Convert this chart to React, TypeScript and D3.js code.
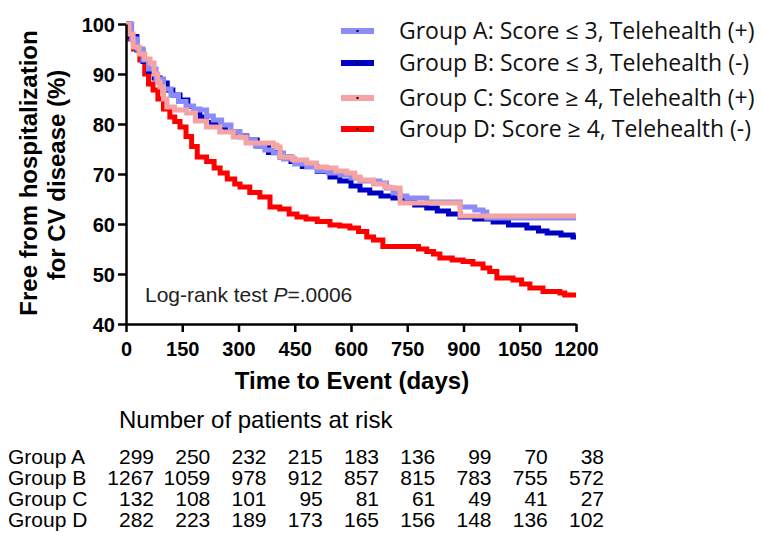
import { useRef, useEffect } from "react";
import * as d3 from "d3";

// Kaplan-Meier points [day, % free from hospitalization]
const groupA: [number, number][] = [
  [0, 100], [15, 97], [30, 95], [45, 92.8], [60, 91], [80, 89], [100, 87], [120, 85.8],
  [140, 84.5], [160, 83.6], [180, 83], [197, 82.8], [215, 81.6], [233, 80.8], [255, 79.8],
  [280, 78.5], [304, 77.4], [322, 76.8], [345, 75.6], [370, 74.8], [393, 74.2], [420, 73],
  [450, 72], [482, 71.4], [510, 70.6], [540, 70.2], [571, 69.8], [600, 69.2], [624, 68.6],
  [677, 68.2], [695, 67.2], [712, 66.2], [730, 65.6], [749, 65.2], [802, 64.4], [882, 64.4],
  [891, 63.4], [930, 62.8], [952, 62.4], [962, 61.2], [1200, 61.2],
];
const groupB: [number, number][] = [
  [0, 100], [10, 97.5], [29, 94.8], [45, 92.5], [60, 90.5], [75, 89.2], [91, 88.2], [110, 86.8],
  [125, 85.8], [144, 84.8], [165, 83.5], [180, 82.5], [197, 81.4], [215, 80.3], [240, 79.5],
  [265, 78.5], [290, 77.6], [322, 76.8], [350, 75.6], [380, 74.3], [411, 73.4], [440, 72.5],
  [470, 71.5], [510, 70.5], [544, 69.4], [570, 68.6], [600, 67.6], [624, 66.8], [650, 66.2],
  [680, 65.6], [712, 65.2], [740, 64.6], [770, 63.8], [802, 63.2], [830, 62.6], [860, 62],
  [891, 61.4], [930, 61], [979, 60.4], [1020, 59.8], [1069, 59.2], [1100, 58.6], [1123, 58.2],
  [1160, 57.8], [1192, 57.4], [1200, 57.4],
];
const groupC: [number, number][] = [
  [0, 100], [8, 98], [19, 95.4], [35, 94], [50, 93], [64, 92.2], [75, 90], [85, 88.4], [91, 87.4],
  [100, 85], [109, 83.4], [130, 82.8], [162, 82.2], [185, 80.6], [215, 79.4], [250, 78.4],
  [286, 77.4], [320, 76.2], [375, 76.2], [393, 75.8], [402, 75.4], [411, 73.4], [445, 72.8],
  [482, 72.2], [508, 71.4], [535, 71.2], [560, 70.6], [589, 70.2], [610, 69.4], [624, 68.8],
  [660, 68], [690, 67.4], [704, 67.2], [731, 64.2], [882, 64.2], [891, 61.6], [1200, 61.6],
];
const groupD: [number, number][] = [
  [0, 100], [10, 97], [20, 95], [37, 92.8], [50, 90], [60, 88], [72, 86.8], [85, 85], [100, 83],
  [117, 81.4], [130, 80.5], [144, 79.4], [160, 77.5], [175, 75.5], [190, 73.4], [215, 72.5],
  [235, 71.2], [251, 70.2], [270, 69], [290, 68], [304, 67.4], [330, 66.3], [357, 65.4],
  [384, 63.4], [410, 63], [435, 62], [456, 61.4], [480, 61], [510, 60.5], [544, 59.8],
  [570, 59.6], [597, 59.2], [620, 58.5], [642, 57.4], [660, 56.8], [685, 55.5], [757, 55.5],
  [780, 55], [802, 54.5], [820, 54], [837, 53.2], [870, 52.8], [899, 52.5], [925, 52],
  [952, 51.2], [970, 50.5], [989, 49.2], [1032, 48.8], [1055, 48], [1077, 47.2], [1112, 46.5],
  [1157, 46.2], [1170, 45.8], [1200, 45.8],
];

const legendLabels = [
  "Group A: Score \u2264 3, Telehealth (+)",
  "Group B: Score \u2264 3, Telehealth (-)",
  "Group C: Score \u2265 4, Telehealth (+)",
  "Group D: Score \u2265 4, Telehealth (-)",
];
const colors = ["#8c8cf7", "#0000c4", "#f5a3a3", "#ff0000"];

const xTicks = [0, 150, 300, 450, 600, 750, 900, 1050, 1200];
const yTicks = [40, 50, 60, 70, 80, 90, 100];

const riskGroups = ["Group A", "Group B", "Group C", "Group D"];
const riskA = [299, 250, 232, 215, 183, 136, 99, 70, 38];
const riskB = [1267, 1059, 978, 912, 857, 815, 783, 755, 572];
const riskC = [132, 108, 101, 95, 81, 61, 49, 41, 27];
const riskD = [282, 223, 189, 173, 165, 156, 148, 136, 102];

const App = () => {
  const svgRef = useRef<SVGSVGElement>(null);

  useEffect(() => {
    const svg = d3.select(svgRef.current);
    svg.selectAll("*").remove();
    const arial = "'Liberation Sans', Arial, sans-serif";

    const x = d3.scaleLinear().domain([0, 1200]).range([126, 576]);
    const y = d3.scaleLinear().domain([40, 100]).range([324, 24]);

    // curves (drawn D, B, A, C so that lighter lines sit on top)
    const line = d3.line<[number, number]>()
      .x((d) => x(d[0]))
      .y((d) => y(d[1]))
      .curve(d3.curveStepAfter);
    const series = [groupA, groupB, groupC, groupD];
    [3, 1, 0, 2].forEach((i) => {
      svg.append("path")
        .datum(series[i])
        .attr("fill", "none")
        .attr("stroke", colors[i])
        .attr("stroke-width", 5)
        .attr("d", line);
    });

    // axes
    const xAxis = d3.axisBottom(x).tickValues(xTicks).tickFormat(d3.format("d"))
      .tickSize(8).tickPadding(6).tickSizeOuter(0);
    const gx = svg.append("g").attr("transform", "translate(0,324)").call(xAxis);
    const yAxis = d3.axisLeft(y).tickValues(yTicks).tickSize(8).tickPadding(3).tickSizeOuter(0);
    const gy = svg.append("g").attr("transform", "translate(126,0)").call(yAxis);
    [gx, gy].forEach((g) => {
      g.select(".domain").attr("stroke", "#000").attr("stroke-width", 2.5);
      g.selectAll(".tick line").attr("stroke", "#000").attr("stroke-width", 2.5);
      g.selectAll(".tick text")
        .attr("fill", "#000")
        .style("font-family", arial)
        .style("font-weight", "bold")
        .style("font-size", "20px");
    });
    gx.selectAll(".tick text").attr("dy", "0.9em");
    gy.selectAll(".tick text").attr("dy", "0.36em");

    // axis titles
    svg.append("text")
      .attr("x", 352).attr("y", 389)
      .attr("text-anchor", "middle")
      .style("font-family", arial).style("font-weight", "bold").style("font-size", "24px")
      .text("Time to Event (days)");
    ["Free from hospitalization", "for CV disease (%)"].forEach((t, i) => {
      svg.append("text")
        .attr("transform", `translate(${37 + i * 28},${173 + i * 2}) rotate(-90)`)
        .attr("text-anchor", "middle")
        .style("font-family", arial).style("font-weight", "bold").style("font-size", "24px")
        .text(t);
    });

    // log-rank annotation
    const lr = svg.append("text")
      .attr("x", 145).attr("y", 302)
      .attr("fill", "#222")
      .style("font-family", arial).style("font-size", "21px");
    lr.append("tspan").text("Log-rank test ");
    lr.append("tspan").style("font-style", "italic").text("P");
    lr.append("tspan").text("=.0006");

    // legend
    const legY = [31, 63, 98, 129];
    legendLabels.forEach((lab, i) => {
      svg.append("line")
        .attr("x1", 341).attr("x2", 374)
        .attr("y1", legY[i]).attr("y2", legY[i])
        .attr("stroke", colors[i]).attr("stroke-width", 6);
      svg.append("rect")
        .attr("x", 356.5).attr("y", legY[i] - 1)
        .attr("width", 2).attr("height", 2)
        .attr("fill", "#000");
      svg.append("text")
        .attr("x", 399).attr("y", legY[i] + 8)
        .attr("fill", "#111")
        .style("font-family", "'Open Sans', sans-serif").style("font-size", "23px")
        .text(lab);
    });

    // number at risk table
    svg.append("text")
      .attr("x", 119).attr("y", 428)
      .style("font-family", arial).style("font-size", "24px")
      .text("Number of patients at risk");
    const risks = [riskA, riskB, riskC, riskD];
    risks.forEach((row, r) => {
      const by = 464 + r * 21;
      svg.append("text")
        .attr("x", 8).attr("y", by)
        .style("font-family", arial).style("font-size", "21px")
        .text(riskGroups[r]);
      row.forEach((v, c) => {
        svg.append("text")
          .attr("x", x(xTicks[c]) + 28).attr("y", by)
          .attr("text-anchor", "end")
          .style("font-family", arial).style("font-size", "21px")
          .text(v);
      });
    });
  }, []);

  return (
    <svg
      ref={svgRef}
      width={763}
      height={537}
      style={{ position: "absolute", left: 0, top: 0, background: "#fff" }}
    />
  );
};

export default App;
